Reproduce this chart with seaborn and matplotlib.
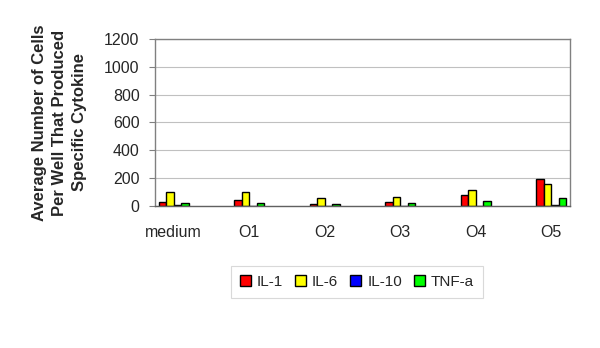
import matplotlib
matplotlib.use("Agg")
import matplotlib.pyplot as plt
import seaborn as sns
import pandas as pd

categories = ['medium', 'O1', 'O2', 'O3', 'O4', 'O5']
series = ['IL-1', 'IL-6', 'IL-10', 'TNF-a']
il1 = [31, 43, 12, 31, 79, 192]
il6 = [99, 99, 55, 67, 113, 158]
il10 = [8, 3, 2, 2, 3, 5]
tnf = [22, 22, 12, 22, 34, 55]
colors = ['#FF0000', '#FFFF00', '#0000FF', '#00FF00']
yticks = [0, 200, 400, 600, 800, 1000, 1200]

sns.set_theme(style='white')
plt.rcParams['font.family'] = ['Liberation Sans', 'DejaVu Sans']

rows = []
for s, vals in zip(series, [il1, il6, il10, tnf]):
    for c, v in zip(categories, vals):
        rows.append({'cat': c, 'series': s, 'value': v})
df = pd.DataFrame(rows)

# spacer categories between the labelled groups
order = []
for i, c in enumerate(categories):
    order.append(c)
    if i < len(categories) - 1:
        order.append(' ' * (i + 1))

fig = plt.figure(figsize=(6, 3.48), dpi=100)
ax = fig.add_axes([0.258, 0.408, 0.692, 0.48])
sns.barplot(data=df, x='cat', y='value', hue='series', order=order,
            hue_order=series, palette=colors, width=0.8, saturation=1,
            edgecolor='black', linewidth=1, ax=ax, errorbar=None)

ax.set_xlim(-0.5, len(order) - 0.5)
ax.set_ylim(0, 1200)
ax.set_yticks(yticks)
ax.set_yticklabels([str(t) for t in yticks], fontsize=11.5)
ax.yaxis.grid(True, color='#c0c0c0', linewidth=0.8)
ax.set_axisbelow(True)

major = [order.index(c) for c in categories]
ax.set_xticks(major)
ax.set_xticklabels(categories, fontsize=11.5)
ax.set_xticks([i - 0.5 for i in range(len(order) + 1)], minor=True)
ax.tick_params(axis='x', which='major', length=0, pad=14)
ax.tick_params(axis='x', which='minor', length=4, color='#808080', width=0.8)
ax.tick_params(axis='y', which='major', length=4, color='#808080', width=0.8, left=True, pad=7)
ax.set_xlabel('')
ax.set_ylabel('Average Number of Cells\nPer Well That Produced\nSpecific Cytokine',
              fontsize=12, fontweight='bold', linespacing=1.45, labelpad=12)

for sp in ['top', 'right', 'left']:
    ax.spines[sp].set_color('#808080')
    ax.spines[sp].set_linewidth(1)
ax.spines['bottom'].set_color('#606060')
ax.spines['bottom'].set_linewidth(1)

sns.move_legend(ax, loc='center', bbox_to_anchor=(0.595, 0.19),
                bbox_transform=fig.transFigure, ncol=4, title=None,
                frameon=True, fontsize=11, handlelength=0.7, handleheight=0.7,
                columnspacing=0.8, handletextpad=0.4, borderpad=0.6, fancybox=False)
leg = ax.get_legend()
leg.get_frame().set_edgecolor('#d0d0d0')
leg.get_frame().set_linewidth(0.8)

fig.savefig('out.png', dpi=100)
